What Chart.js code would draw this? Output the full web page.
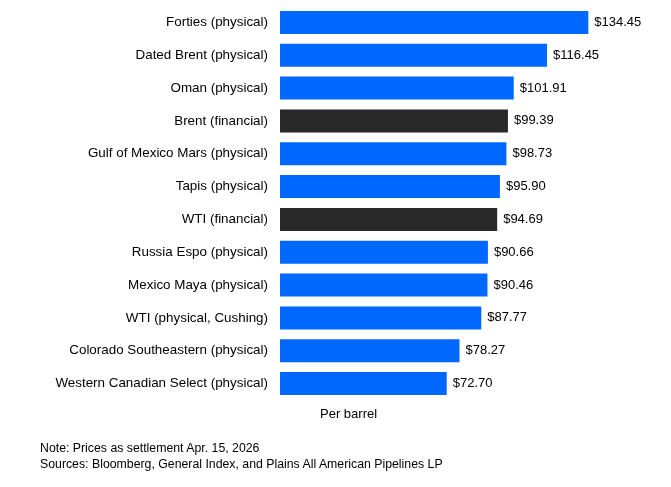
<!DOCTYPE html>
<html>
<head>
<meta charset="utf-8">
<script src="https://cdn.jsdelivr.net/npm/chart.js@4/dist/chart.umd.min.js"></script>
<style>
  body { margin: 0; background: #fff; font-family: "Liberation Sans", Arial, sans-serif; }
  #wrap { position: relative; width: 671px; height: 487px; }
  canvas { display: block; }
  #per { position: absolute; left: 320px; top: 406px; font-size: 13px; color: #000; }
  #notes { position: absolute; left: 40px; top: 440px; font-size: 12.3px; line-height: 16px; color: #000; }
</style>
</head>
<body>
<div id="wrap">
  <canvas id="oilChart" width="671" height="487"></canvas>
  <div id="per">Per barrel</div>
  <div id="notes">Note: Prices as settlement Apr. 15, 2026<br>Sources: Bloomberg, General Index, and Plains All American Pipelines LP</div>
</div>
<script>
// Crude grades and settlement prices
const grades = [
    'Forties (physical)', 'Dated Brent (physical)', 'Oman (physical)', 'Brent (financial)',
    'Gulf of Mexico Mars (physical)', 'Tapis (physical)', 'WTI (financial)', 'Russia Espo (physical)',
    'Mexico Maya (physical)', 'WTI (physical, Cushing)', 'Colorado Southeastern (physical)',
    'Western Canadian Select (physical)'
];
const prices = [134.45, 116.45, 101.91, 99.39, 98.73, 95.90, 94.69, 90.66, 90.46, 87.77, 78.27, 72.70];
const isFinancial = [false, false, false, true, false, false, true, false, false, false, false, false];

const blue = '#0068ff';
const dark = '#282828';

// Draws "$xx.xx" right after each bar
const valueLabels = {
    id: 'valueLabels',
    afterDatasetsDraw(chart) {
        const ctx = chart.ctx;
        const meta = chart.getDatasetMeta(0);
        ctx.save();
        ctx.font = '13px "Liberation Sans", Arial, sans-serif';
        ctx.fillStyle = '#000';
        ctx.textBaseline = 'middle';
        meta.data.forEach((bar, i) => {
            ctx.fillText('$' + prices[i].toFixed(2), bar.x + 6, bar.y);
        });
        ctx.restore();
    }
};

const ctx = document.getElementById('oilChart').getContext('2d');
new Chart(ctx, {
    type: 'bar',
    data: {
        labels: grades,
        datasets: [{
            data: prices,
            backgroundColor: isFinancial.map(f => f ? dark : blue),
            barPercentage: 0.7,
            categoryPercentage: 1.0
        }]
    },
    options: {
        indexAxis: 'y',
        responsive: false,
        animation: false,
        layout: { padding: { top: 6, bottom: 87, left: 0, right: 47 } },
        scales: {
            x: { display: false, min: 0, max: 150 },
            y: {
                grid: { display: false, drawTicks: false },
                border: { display: false },
                ticks: {
                    padding: 12,
                    color: '#000',
                    font: { family: '"Liberation Sans", Arial, sans-serif', size: 13.4 }
                },
                afterFit(scale) {
                    scale.width = 280;
                    scale.paddingTop = 0;
                    scale.paddingBottom = 0;
                }
            }
        },
        plugins: {
            legend: { display: false },
            tooltip: { enabled: false }
        }
    },
    plugins: [valueLabels]
});
</script>
</body>
</html>
